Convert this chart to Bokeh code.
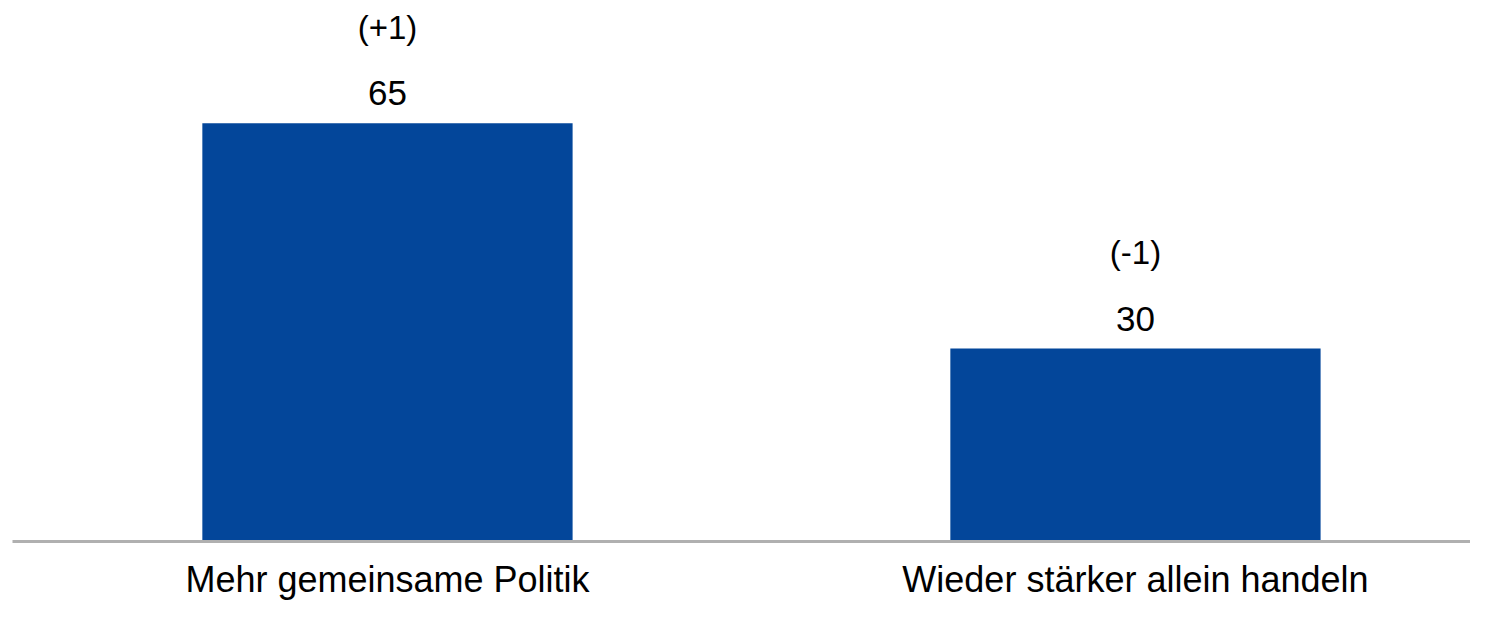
from bokeh.plotting import figure
from bokeh.models import Range1d, FixedTicker, ColumnDataSource, LabelSet
from bokeh.core.properties import value
from bokeh.embed import file_html
from bokeh.resources import INLINE

categories = ["Mehr gemeinsame Politik", "Wieder stärker allein handeln"]
values = [65, 30]
changes = ["(+1)", "(-1)"]

xs = [i + 0.5 for i in range(len(categories))]
src = ColumnDataSource(dict(x=xs, top=values,
                            val=[str(v) for v in values], chg=changes))

p = figure(width=1470, height=602, output_backend="svg", toolbar_location=None,
           x_range=Range1d(-0.0013, 1.9479), y_range=Range1d(0, 84.1),
           y_axis_location=None, min_border_left=12, min_border_right=0,
           min_border_top=0, min_border_bottom=55)
p.outline_line_color = None
p.xgrid.visible = False
p.ygrid.visible = False
p.background_fill_color = "white"
p.border_fill_color = "white"

p.vbar(x="x", top="top", bottom=0, width=0.495, source=src,
       fill_color="#03469A", line_color=None)

vals = LabelSet(x="x", y="top", text="val", source=src, y_offset=30,
                text_align="center", text_baseline="middle",
                text_font=value("Liberation Sans"), text_font_size="35px",
                text_color="black")
chgs = LabelSet(x="x", y="top", text="chg", source=src, y_offset=96,
                text_align="center", text_baseline="middle",
                text_font=value("Liberation Sans"), text_font_size="33px",
                text_color="black")
p.add_layout(vals)
p.add_layout(chgs)

ax = p.xaxis[0]
ax.ticker = FixedTicker(ticks=xs)
ax.major_label_overrides = {x: c for x, c in zip(xs, categories)}
ax.axis_line_color = "#b0b0b0"
ax.axis_line_width = 3
ax.major_tick_line_color = None
ax.minor_tick_line_color = None
ax.major_label_standoff = 11
ax.major_label_text_font = "Liberation Sans"
ax.major_label_text_font_size = "36px"
ax.major_label_text_color = "black"

open("out.html", "w").write(file_html(p, INLINE))
